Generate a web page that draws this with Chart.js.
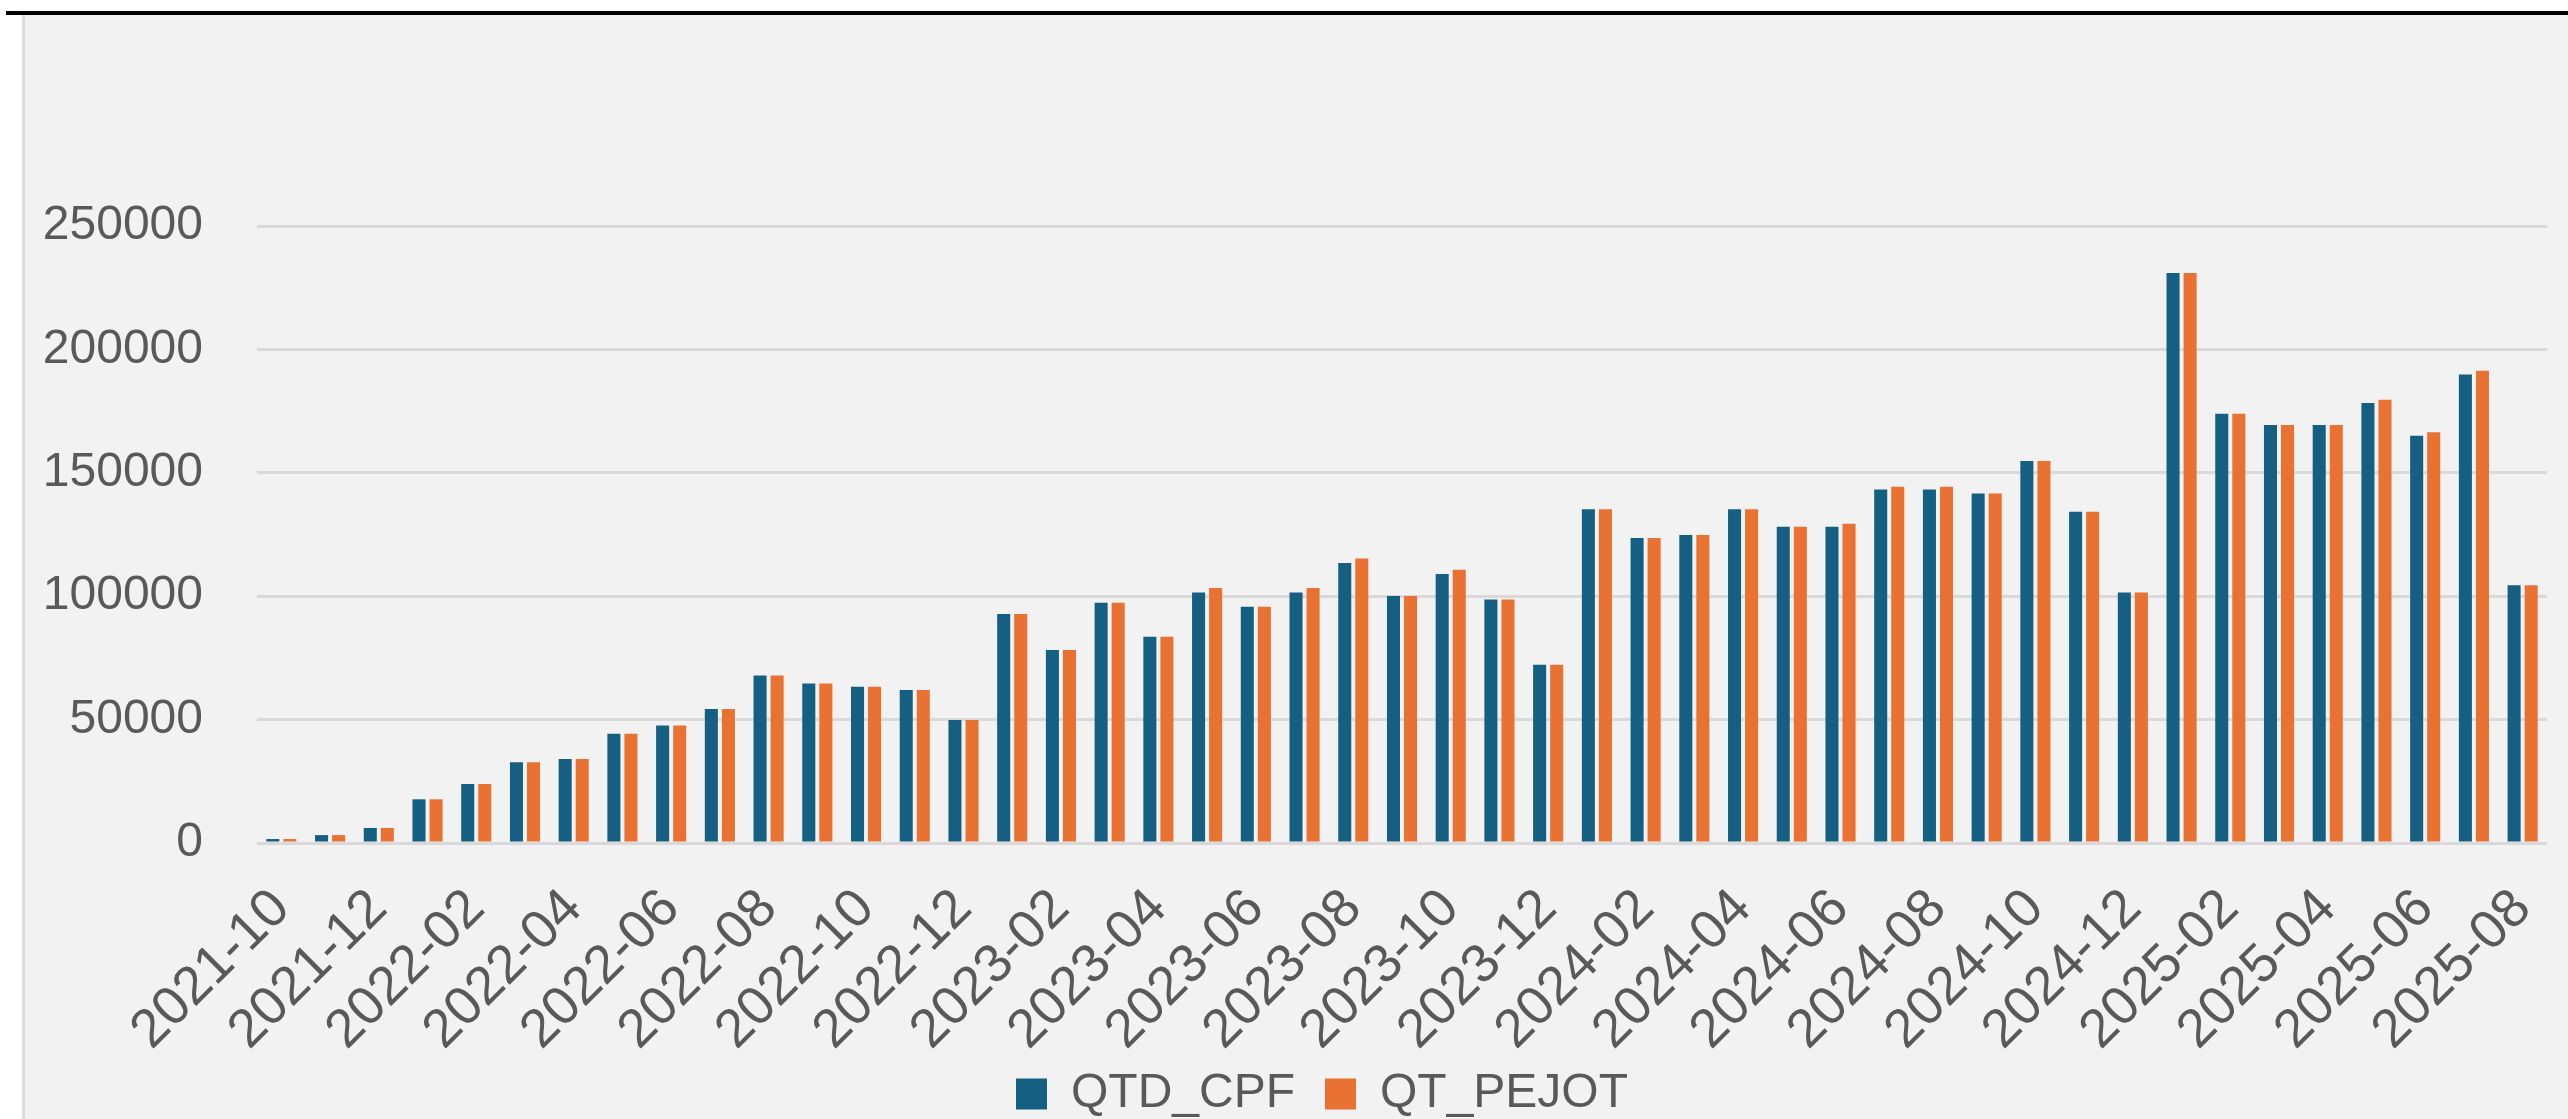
<!DOCTYPE html>
<html>
<head>
<meta charset="utf-8">
<script src="https://cdn.jsdelivr.net/npm/chart.js@4/dist/chart.umd.min.js"></script>
<style>
  body { margin: 0; background: #ffffff; width: 2568px; height: 1119px; overflow: hidden; position: relative; }
  #topline { position: absolute; left: 6px; top: 11px; width: 2562px; height: 4px; background: #000; }
  #leftline { position: absolute; left: 22px; top: 15px; width: 3px; height: 1104px; background: #dcdcdc; }
  #myChart { position: absolute; left: 25px; top: 15px; background: #f2f2f2; }
</style>
</head>
<body>
<div id="topline"></div>
<div id="leftline"></div>
<canvas id="myChart" width="2543" height="1122"></canvas>
<script>
const months = [
  "2021-10", "2021-11", "2021-12",
  "2022-01", "2022-02", "2022-03", "2022-04", "2022-05", "2022-06",
  "2022-07", "2022-08", "2022-09", "2022-10", "2022-11", "2022-12",
  "2023-01", "2023-02", "2023-03", "2023-04", "2023-05", "2023-06",
  "2023-07", "2023-08", "2023-09", "2023-10", "2023-11", "2023-12",
  "2024-01", "2024-02", "2024-03", "2024-04", "2024-05", "2024-06",
  "2024-07", "2024-08", "2024-09", "2024-10", "2024-11", "2024-12",
  "2025-01", "2025-02", "2025-03", "2025-04", "2025-05", "2025-06",
  "2025-07", "2025-08",
];

const qtdCpf = [
  1600, 3200, 6100,
  17700, 23900, 32700, 34000, 44300, 47600,
  54300, 67900, 64600, 63300, 62000, 49800,
  92800, 78200, 97300, 83600, 101500, 95700,
  101500, 113500, 100100, 109000, 98700, 72200,
  135200, 123600, 124800, 135200, 128100, 128100,
  143200, 143200, 141600, 154800, 134200, 101500,
  231000, 173900, 169400, 169400, 178300, 165000,
  189800, 104400,
];

const qtPejot = [
  1600, 3200, 6100,
  17700, 23900, 32700, 34000, 44300, 47600,
  54300, 67900, 64600, 63300, 62000, 49800,
  92800, 78200, 97300, 83600, 103300, 95700,
  103300, 115300, 100100, 110700, 98700, 72200,
  135200, 123600, 124800, 135200, 128100, 129400,
  144300, 144300, 141600, 154800, 134200, 101500,
  231000, 173900, 169400, 169400, 179600, 166400,
  191300, 104400,
];

const yTicks = [0, 50000, 100000, 150000, 200000, 250000];

const textColor = "#595959";
const fontFamily = "'Liberation Sans', Arial, sans-serif";

// nudge the legend a bit to the right, like in the original
const legendShift = {
  id: "legendShift",
  afterLayout(chart) {
    chart.legend.left += 32;
    chart.legend.right += 32;
  },
};

const ctx = document.getElementById("myChart").getContext("2d");

const myChart = new Chart(ctx, {
  type: "bar",
  data: {
    labels: months,
    datasets: [
      {
        label: "QTD_CPF",
        data: qtdCpf,
        backgroundColor: "#156082",
        borderWidth: 0,
        barPercentage: 0.765,
        categoryPercentage: 0.7,
      },
      {
        label: "QT_PEJOT",
        data: qtPejot,
        backgroundColor: "#e97132",
        borderWidth: 0,
        barPercentage: 0.765,
        categoryPercentage: 0.7,
      },
    ],
  },
  plugins: [legendShift],
  options: {
    responsive: false,
    animation: false,
    devicePixelRatio: 1,
    layout: {
      padding: { top: 211, left: 8, right: 21, bottom: 9 },
    },
    plugins: {
      tooltip: { enabled: false },
      legend: {
        position: "bottom",
        labels: {
          boxWidth: 31,
          boxHeight: 31,
          padding: 30,
          color: textColor,
          font: { family: fontFamily, size: 48 },
        },
      },
    },
    scales: {
      x: {
        grid: { display: false, drawTicks: false },
        border: { display: false },
        afterFit: (scale) => {
          scale.height = 197;
          scale.paddingLeft = 0;
          scale.paddingRight = 0;
          // let the rotated labels run past the axis box
          scale._computeLabelArea = () => undefined;
        },
        ticks: {
          autoSkip: false,
          maxRotation: 45,
          minRotation: 45,
          padding: 34,
          color: textColor,
          font: { family: fontFamily, size: 54 },
          callback: (value, index) => (index % 2 === 0 ? months[index] : ""),
        },
      },
      y: {
        min: 0,
        max: 250000,
        afterFit: (scale) => {
          scale.width = 224;
        },
        afterBuildTicks: (scale) => {
          scale.ticks = yTicks.map((v) => ({ value: v }));
        },
        grid: { color: "#d9d9d9", lineWidth: 3, drawTicks: false },
        border: { display: false },
        ticks: {
          padding: 54,
          color: textColor,
          font: { family: fontFamily, size: 48 },
          callback: (value) => String(value),
        },
      },
    },
  },
});
</script>
</body>
</html>
